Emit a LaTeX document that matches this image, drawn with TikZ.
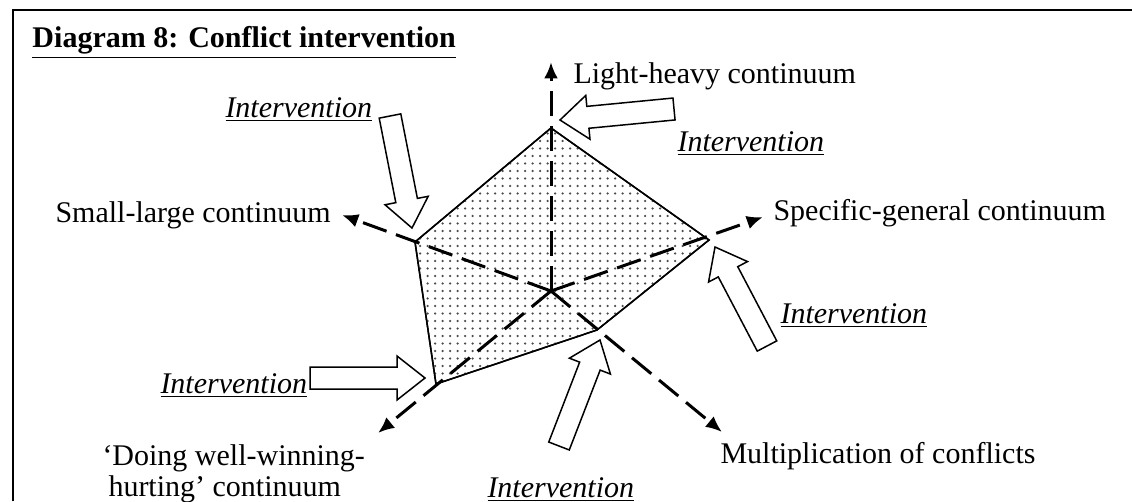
\documentclass[tikz,border=0pt]{standalone}
\usepackage{fontspec}
\setmainfont{Liberation Serif}
\usetikzlibrary{calc,patterns,arrows.meta}

% block arrow from tail #1 to tip #2
\newcommand\interarrow[2]{%
  \coordinate (#2-b) at ($(#2)!11.2pt!(#1)$);
  \draw[intervention] ($(#1)!4.4pt!90:(#2)$) -- ($(#2-b)!4.4pt!-90:(#1)$)
    -- ($(#2-b)!8.8pt!-90:(#1)$) -- (#2) -- ($(#2-b)!8.8pt!90:(#1)$)
    -- ($(#2-b)!4.4pt!90:(#1)$) -- ($(#1)!4.4pt!-90:(#2)$) -- cycle;}

\begin{document}
\begin{tikzpicture}[
        x=0.4pt, y=-0.4pt,
        every node/.style={inner sep=0pt, font=\fontsize{12}{12.4}\selectfont},
        axis/.style={line width=1.2pt, dash pattern=on 10pt off 4pt,
            -{Latex[length=6.5pt,width=5.5pt]}},
        intervention/.style={draw, fill=white, line width=0.6pt},
        lbl/.style={anchor=base west},
        ilbl/.style={anchor=base west, font=\fontsize{12}{12.4}\selectfont\itshape}
    ]
    \useasboundingbox (0,0) rectangle (1132,501);
    \draw[line width=0.7pt] (13,501) -- (13,10) -- (1132,10);

    \node[lbl, font=\fontsize{12}{12.4}\selectfont\bfseries] (title) at (32,47)
        {\underline{Diagram 8: Conflict intervention}};

    % axes
    \coordinate (o) at (551,291);
    \coordinate (up) at (551,62);
    \coordinate (left) at (342,215);
    \coordinate (right) at (763,217);
    \coordinate (lowleft) at (378,433);
    \coordinate (lowright) at (722,432);

    % shaded profile
    \coordinate (p1) at (551,128);
    \coordinate (p2) at (709,240);
    \coordinate (p3) at (597,330);
    \coordinate (p4) at (436,384);
    \coordinate (p5) at (415,242);
    \filldraw[fill=white, line width=0.6pt] (p1) -- (p2) -- (p3) -- (p4) -- (p5) -- cycle;
    \fill[pattern=dots, pattern color=black!70] (p1) -- (p2) -- (p3) -- (p4) -- (p5) -- cycle;
    \draw[line width=0.6pt] (p1) -- (p2) -- (p3) -- (p4) -- (p5) -- cycle;

    \foreach \t in {up,left,right,lowleft,lowright}
        \draw[axis] (o) -- (\t);

    \node[lbl] (lh) at (573,83) {Light-heavy continuum};
    \node[lbl] (sl) at (55,222) {Small-large continuum};
    \node[lbl] (sg) at (773,220) {Specific-general continuum};
    \node[lbl] (mc) at (720,463) {Multiplication of conflicts};
    \node[anchor=north west, align=left] (dw) at (102,444)
        {‘Doing well-winning-\\\hspace{2.4pt}hurting’ continuum};

    % intervention arrows
    \coordinate (tail1) at (390,116);  \coordinate (tip1) at (412,228);
    \coordinate (tail2) at (674,109);  \coordinate (tip2) at (560,120);
    \coordinate (tail3) at (767,346);  \coordinate (tip3) at (715,247);
    \coordinate (tail4) at (559,446);  \coordinate (tip4) at (600,340);
    \coordinate (tail5) at (310,378);  \coordinate (tip5) at (425,378);
    \foreach \i in {1,...,5}
        \interarrow{tail\i}{tip\i};

    \node[ilbl] (int1) at (225,117) {\underline{Intervention}};
    \node[ilbl] (int2) at (677,151) {\underline{Intervention}};
    \node[ilbl] (int3) at (780,323) {\underline{Intervention}};
    \node[ilbl] (int4) at (487,497) {\underline{Intervention}};
    \node[ilbl] (int5) at (160,393) {\underline{Intervention}};
\end{tikzpicture}
\end{document}
